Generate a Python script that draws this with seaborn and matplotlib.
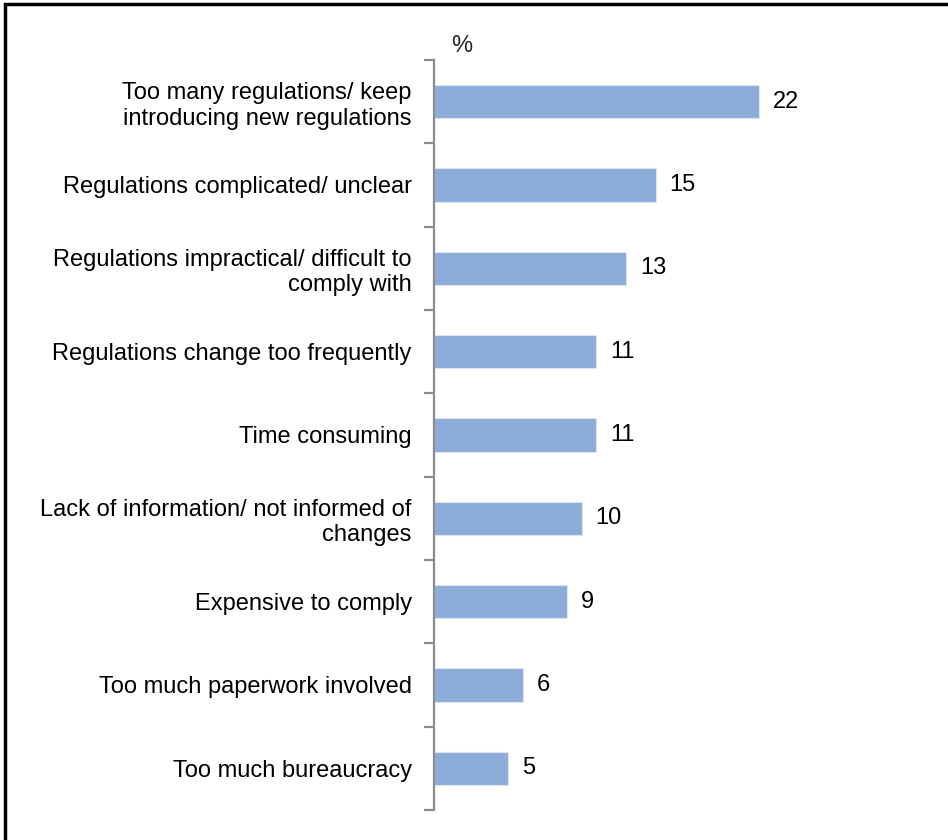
import matplotlib
matplotlib.use("Agg")
import matplotlib.pyplot as plt
import seaborn as sns
import pandas as pd
from matplotlib.patches import Rectangle

categories = [
    "Too many regulations/ keep\nintroducing new regulations",
    "Regulations complicated/ unclear",
    "Regulations impractical/ difficult to\ncomply with",
    "Regulations change too frequently",
    "Time consuming",
    "Lack of information/ not informed of\nchanges",
    "Expensive to comply",
    "Too much paperwork involved",
    "Too much bureaucracy",
]
values = [22, 15, 13, 11, 11, 10, 9, 6, 5]
unit_label = "%"

sns.set_theme(style="white")
plt.rcParams["font.family"] = ["Liberation Sans", "DejaVu Sans"]

W, H, DPI = 948, 840, 100
fig = plt.figure(figsize=(W / DPI, H / DPI), dpi=DPI)
ax = fig.add_axes([434 / W, (H - 810) / H, (877 - 434) / W, (810 - 60) / H])

df = pd.DataFrame({"reason": categories, "pct": values})
sns.barplot(data=df, y="reason", x="pct", orient="h", color="#8DADD8",
            saturation=1, width=0.4, ax=ax, edgecolor="#DCE6F2", linewidth=0.8)

ax.set_xlim(0, 30)
ax.set_ylim(len(categories) - 0.5, -0.5)
ax.set_xlabel("")
ax.set_ylabel("")
ax.set_xticks([])

for name in ["top", "right", "bottom"]:
    ax.spines[name].set_visible(False)
ax.spines["left"].set_color("#8C8C8C")
ax.spines["left"].set_linewidth(1.6)

# category labels at bar centres, tick marks at category boundaries
ax.set_yticks(range(len(categories)))
ax.set_yticklabels(categories, fontsize=17, color="black", linespacing=1.2)
ax.tick_params(axis="y", which="major", length=0, pad=16)
ax.set_yticks([i - 0.5 for i in range(len(categories) + 1)], minor=True)
ax.tick_params(axis="y", which="minor", length=7, width=1.6, color="#8C8C8C", left=True)

for container in ax.containers:
    ax.bar_label(container, labels=[str(v) for v in values], padding=10,
                 fontsize=17, color="black")

fig.text(462 / W, (H - 46) / H, unit_label, fontsize=17, ha="center", va="center")

# outer frame
fig.patches.append(Rectangle((5 / W, -0.05), 1.2, (H - 4) / H + 0.05,
                             transform=fig.transFigure, fill=False,
                             edgecolor="black", linewidth=2.5, zorder=10))

fig.savefig("out.png", dpi=DPI, facecolor="white")
